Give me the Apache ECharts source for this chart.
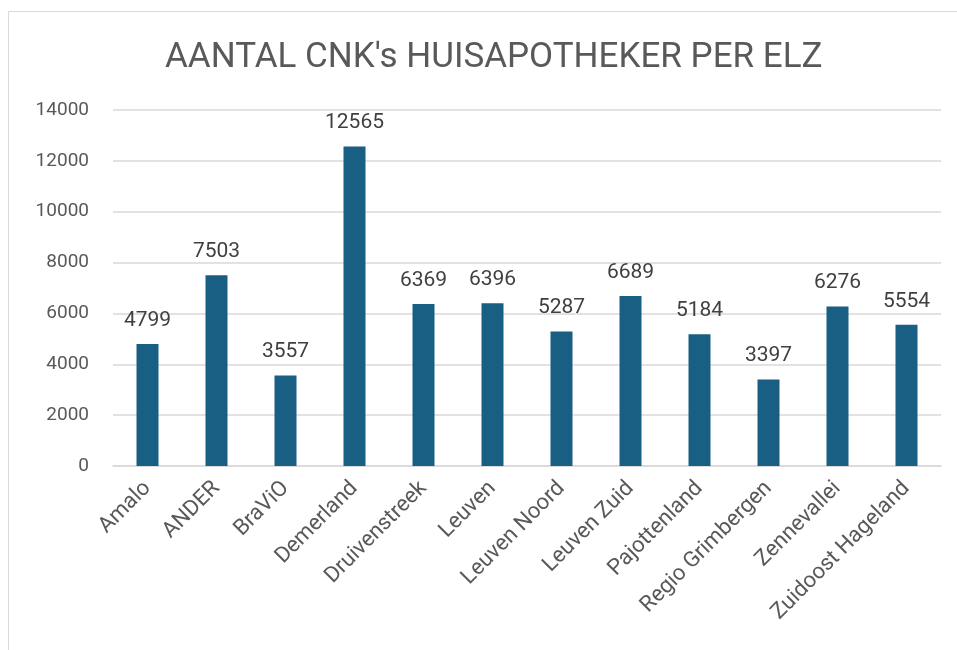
<!DOCTYPE html>
<html>
<head>
<meta charset="utf-8">
<script src="https://cdn.jsdelivr.net/npm/echarts@6/dist/echarts.min.js"></script>
<style>
  html, body { margin: 0; padding: 0; background: #fff; }
  #main { width: 957px; height: 650px; }
</style>
</head>
<body>
<div id="main"></div>
<script>
// data
var categories = ['Amalo', 'ANDER', 'BraViO', 'Demerland', 'Druivenstreek', 'Leuven',
  'Leuven Noord', 'Leuven Zuid', 'Pajottenland', 'Regio Grimbergen', 'Zennevallei', 'Zuidoost Hageland'];
var values = [4799, 7503, 3557, 12565, 6369, 6396, 5287, 6689, 5184, 3397, 6276, 5554];
var yTicks = [0, 2000, 4000, 6000, 8000, 10000, 12000, 14000];

var chart = echarts.init(document.getElementById('main'));

var option = {
  backgroundColor: '#ffffff',
  animation: false,
  textStyle: { fontFamily: 'Roboto, "Open Sans", sans-serif' },
  title: {
    text: "AANTAL CNK's HUISAPOTHEKER PER ELZ",
    left: 160,
    top: 36,
    textStyle: {
      color: '#595959',
      fontSize: 35,
      fontWeight: 'normal',
      fontFamily: 'Roboto, sans-serif'
    }
  },
  // chart frame
  graphic: [{
    type: 'rect',
    shape: { x: 8.5, y: 11.5, width: 960, height: 660 },
    style: { fill: 'none', stroke: '#d9d9d9', lineWidth: 1 },
    silent: true
  }],
  grid: {
    left: 113,
    right: 16,
    top: 110,
    bottom: 184
  },
  xAxis: {
    type: 'category',
    data: categories,
    axisTick: { show: false },
    axisLine: { lineStyle: { color: '#d9d9d9', width: 1.5 } },
    axisLabel: {
      rotate: 45,
      color: '#595959',
      fontSize: 22,
      margin: 19,
      interval: 0
    }
  },
  yAxis: {
    type: 'value',
    min: yTicks[0],
    max: yTicks[yTicks.length - 1],
    interval: 2000,
    axisLine: { show: false },
    axisTick: { show: false },
    splitLine: { lineStyle: { color: '#d9d9d9', width: 1.5 } },
    axisLabel: {
      color: '#595959',
      fontSize: 19,
      margin: 24,
      formatter: function (v) { return String(v); }
    }
  },
  series: [{
    type: 'bar',
    data: values,
    barWidth: 22,
    itemStyle: { color: '#195e83' },
    label: {
      show: true,
      position: 'top',
      distance: 13,
      color: '#404040',
      fontSize: 21
    }
  }]
};

chart.setOption(option);
</script>
</body>
</html>
